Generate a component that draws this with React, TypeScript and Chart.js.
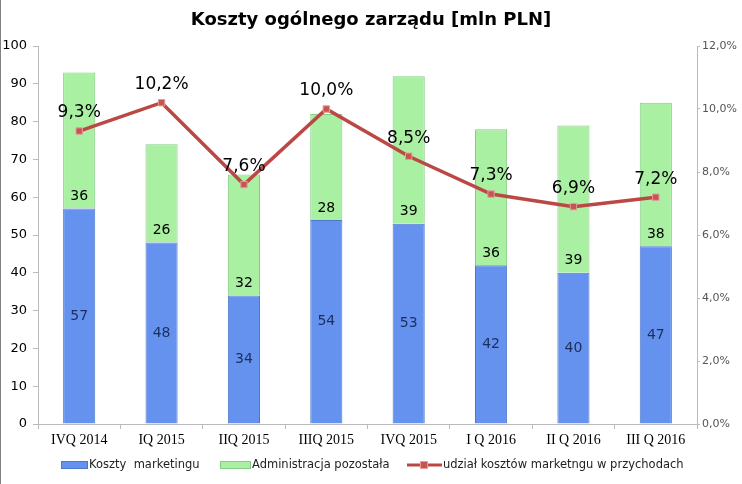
import { useEffect, useRef } from "react";
import { Chart, registerables } from "chart.js";
Chart.register(...registerables);

const title = "Koszty ogólnego zarządu [mln PLN]";
const categories = ["IVQ 2014", "IQ 2015", "IIQ 2015", "IIIQ 2015", "IVQ 2015", "I Q 2016", "II Q 2016", "III Q 2016"];
const marketingCosts = [57, 48, 34, 54, 53, 42, 40, 47];
const otherAdmin = [36, 26, 32, 28, 39, 36, 39, 38];
const marketingShare = [9.3, 10.2, 7.6, 10.0, 8.5, 7.3, 6.9, 7.2];
const seriesNames = ["Koszty  marketingu", "Administracja pozostała", "udział kosztów marketngu w przychodach"];

const FONT = "'DejaVu Sans', Verdana, sans-serif";
const BLUE = "#6592EE";
const BLUE_BORDER = "#4D78C9";
const GREEN = "#A9F0A2";
const GREEN_BORDER = "#86CC84";
const RED = "#BB4845";

const fmtPct = (v: number) => v.toFixed(1).replace(".", ",") + "%";

const labelsPlugin = {
  id: "customLabels",
  afterDatasetsDraw(chart: any) {
    const ctx = chart.ctx;
    ctx.save();
    ctx.textAlign = "center";
    ctx.textBaseline = "middle";
    const m0 = chart.getDatasetMeta(0);
    ctx.font = `14px ${FONT}`;
    ctx.fillStyle = "#1B2F5C";
    m0.data.forEach((el: any, i: number) => {
      ctx.fillText(String(marketingCosts[i]), el.x, (el.y + el.base) / 2);
    });
    const m1 = chart.getDatasetMeta(1);
    ctx.fillStyle = "#000";
    m1.data.forEach((el: any, i: number) => {
      ctx.fillText(String(otherAdmin[i]), el.x, el.base - 12);
    });
    const m2 = chart.getDatasetMeta(2);
    ctx.font = `17px ${FONT}`;
    m2.data.forEach((el: any, i: number) => {
      ctx.fillText(fmtPct(marketingShare[i]), el.x, el.y - 18);
    });
    ctx.restore();
  },
  afterDraw(chart: any) {
    const ctx = chart.ctx;
    ctx.save();
    ctx.font = `bold 18px ${FONT}`;
    ctx.fillStyle = "#000";
    ctx.textAlign = "center";
    ctx.textBaseline = "middle";
    ctx.fillText(title, 371, 20);
    ctx.strokeStyle = "#808080";
    ctx.lineWidth = 1;
    ctx.beginPath();
    ctx.moveTo(0.5, 0);
    ctx.lineTo(0.5, 484);
    ctx.stroke();
    ctx.font = `11.5px ${FONT}`;
    ctx.textAlign = "left";
    const y = 465;
    let x = 61;
    ctx.fillStyle = BLUE;
    ctx.fillRect(x, y - 3.5, 27, 7);
    ctx.strokeStyle = BLUE_BORDER;
    ctx.strokeRect(x + 0.5, y - 3.5, 26, 7);
    x += 28;
    ctx.fillStyle = "#222";
    ctx.fillText(seriesNames[0], x, y);
    x = 220;
    ctx.fillStyle = GREEN;
    ctx.fillRect(x, y - 3.5, 31, 7);
    ctx.strokeStyle = GREEN_BORDER;
    ctx.strokeRect(x + 0.5, y - 3.5, 30, 7);
    x += 32;
    ctx.fillStyle = "#222";
    ctx.fillText(seriesNames[1], x, y);
    x = 407;
    ctx.strokeStyle = RED;
    ctx.lineWidth = 3;
    ctx.beginPath();
    ctx.moveTo(x, y);
    ctx.lineTo(x + 35, y);
    ctx.stroke();
    ctx.fillStyle = "#C65552";
    ctx.fillRect(x + 13, y - 4, 8, 8);
    ctx.strokeStyle = "#E59B98";
    ctx.lineWidth = 1;
    ctx.strokeRect(x + 13.5, y - 3.5, 7, 7);
    ctx.fillStyle = "#222";
    ctx.fillText(seriesNames[2], x + 36, y);
    ctx.restore();
  },
};

export default function App() {
  const ref = useRef<HTMLCanvasElement>(null);
  useEffect(() => {
    if (!ref.current) return;
    const chart = new Chart(ref.current, {
      type: "bar",
      data: {
        labels: categories,
        datasets: [
          {
            type: "bar",
            label: seriesNames[0],
            data: marketingCosts,
            backgroundColor: BLUE,
            borderColor: BLUE_BORDER,
            borderWidth: 1,
            yAxisID: "y",
            stack: "s",
            barPercentage: 0.78,
            categoryPercentage: 0.5,
            order: 2,
          },
          {
            type: "bar",
            label: seriesNames[1],
            data: otherAdmin,
            backgroundColor: GREEN,
            borderColor: GREEN_BORDER,
            borderWidth: 1,
            yAxisID: "y",
            stack: "s",
            barPercentage: 0.78,
            categoryPercentage: 0.5,
            order: 2,
          },
          {
            type: "line",
            label: seriesNames[2],
            data: marketingShare,
            borderColor: RED,
            borderWidth: 3.5,
            pointStyle: "rect",
            pointRadius: 4.5,
            pointBackgroundColor: "#C65552",
            pointBorderColor: "#E59B98",
            pointBorderWidth: 1,
            yAxisID: "y1",
            tension: 0,
            order: 0,
          },
        ],
      },
      options: {
        animation: false,
        responsive: false,
        layout: { padding: { top: 46, bottom: 30, left: 0, right: 0 } },
        plugins: {
          legend: { display: false },
          title: { display: false },
          tooltip: { enabled: false },
        },
        scales: {
          x: {
            stacked: true,
            grid: { display: true, drawOnChartArea: false, tickLength: 5, color: "#BBBBBB", offset: true },
            border: { color: "#BBBBBB" },
            ticks: { font: { family: "'Liberation Serif', serif", size: 14 }, color: "#000", padding: 3, maxRotation: 0 },
            afterFit: (s: any) => { s.height = 30; },
          },
          y: {
            stacked: true,
            position: "left",
            min: 0,
            max: 100,
            ticks: { stepSize: 10, font: { family: FONT, size: 13 }, color: "#000", padding: 6 },
            grid: { drawOnChartArea: false, tickLength: 5, color: "#BBBBBB" },
            border: { color: "#BBBBBB" },
            afterFit: (s: any) => { s.width = 38; },
          },
          y1: {
            position: "right",
            min: 0,
            max: 12,
            ticks: { stepSize: 2, font: { family: FONT, size: 11 }, color: "#555", padding: 2, callback: (v: any) => fmtPct(Number(v)) },
            grid: { drawOnChartArea: false, tickLength: 3, color: "#BBBBBB" },
            border: { color: "#BBBBBB" },
            afterFit: (s: any) => { s.width = 45; },
          },
        },
      },
      plugins: [labelsPlugin],
    });
    return () => chart.destroy();
  }, []);
  return (
    <div style={{ position: "absolute", left: 0, top: 0, width: 742, height: 484, background: "#fff" }}>
      <canvas ref={ref} width={742} height={484} style={{ width: 742, height: 484 }} />
    </div>
  );
}
